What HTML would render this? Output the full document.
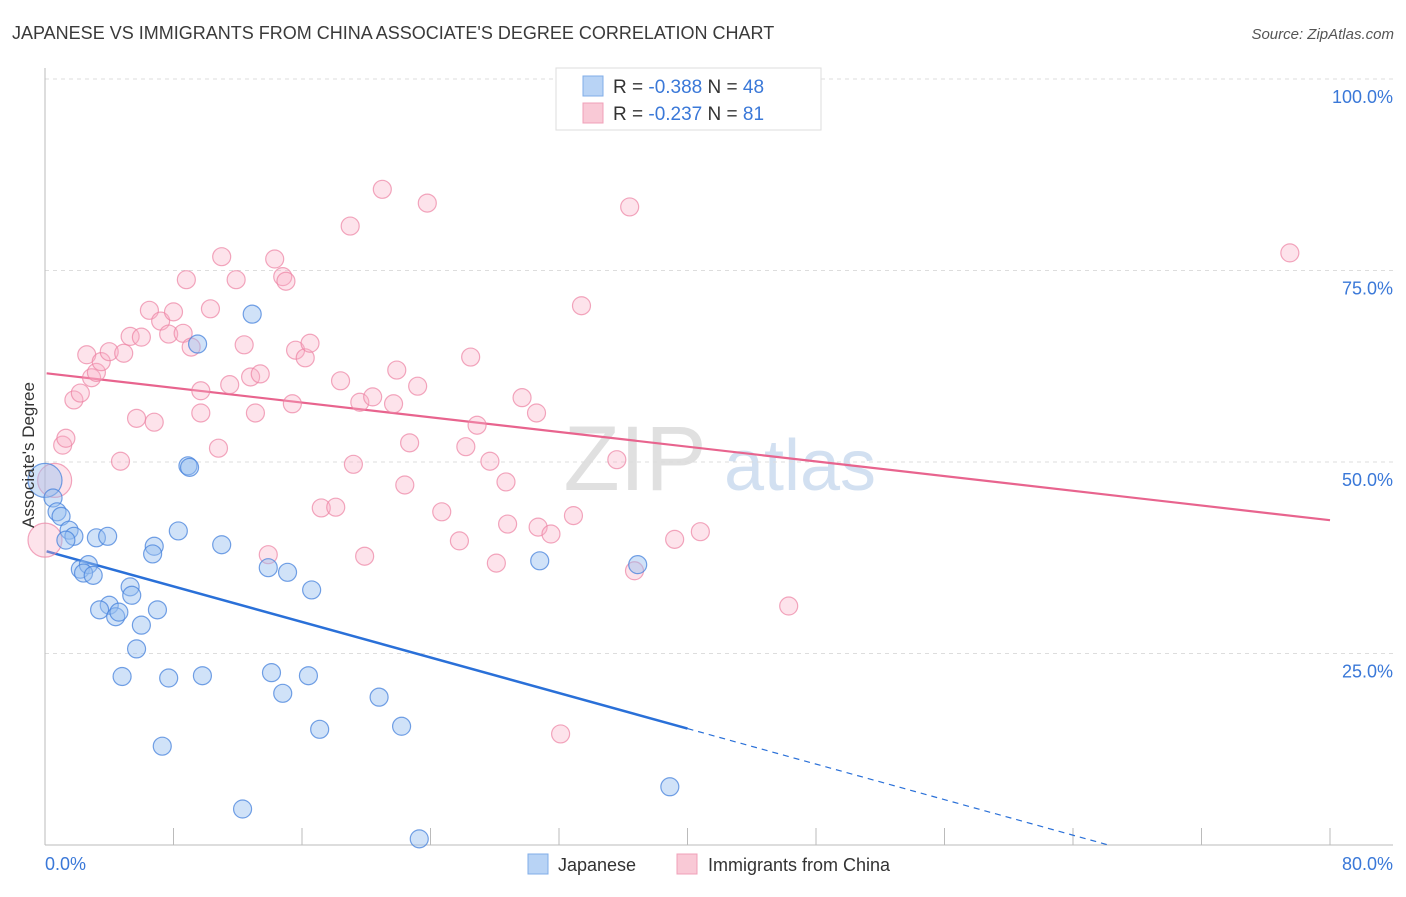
<!DOCTYPE html>
<html><head><meta charset="utf-8"><style>
body{margin:0;background:#fff;font-family:"Liberation Sans",sans-serif;}
svg text{font-family:"Liberation Sans",sans-serif;}
</style></head><body>
<svg id="chart" width="1406" height="892" xmlns="http://www.w3.org/2000/svg">
<text x="12" y="39" font-size="18" fill="#3a3a3a">JAPANESE VS IMMIGRANTS FROM CHINA ASSOCIATE'S DEGREE CORRELATION CHART</text>
<text x="1394" y="39" font-size="15" fill="#555" text-anchor="end" font-style="italic">Source: ZipAtlas.com</text>
<g>
<text x="635" y="490" font-size="92" fill="#d4d4d4" text-anchor="middle" font-family="Liberation Serif" opacity="0.7">ZIP</text>
<text x="800" y="490" font-size="72" fill="#c0d4ec" text-anchor="middle" opacity="0.7">atlas</text>
</g>
<g id="grid"></g>
<g id="axes"></g>
<g id="trend"></g>
<g id="pts"></g>
<text transform="translate(34,455) rotate(-90)" font-size="17" fill="#333" text-anchor="middle">Associate's Degree</text>
<g>
<rect x="556" y="68" width="265" height="62" fill="#fff" stroke="#ddd"/>
<rect x="583" y="76" width="20" height="20" fill="#b8d3f5" stroke="#80aee8"/>
<rect x="583" y="103" width="20" height="20" fill="#f9c9d6" stroke="#f0a0b8"/>
<text x="613" y="93" font-size="19" fill="#333">R = <tspan fill="#3a78d8">-0.388</tspan>   N = <tspan fill="#3a78d8">48</tspan></text>
<text x="613" y="120" font-size="19" fill="#333">R = <tspan fill="#3a78d8">-0.237</tspan>   N = <tspan fill="#3a78d8"> 81</tspan></text>
</g>
<g>
<rect x="528" y="854" width="20" height="20" fill="#b8d3f5" stroke="#80aee8"/>
<text x="558" y="871" font-size="18" fill="#333">Japanese</text>
<rect x="677" y="854" width="20" height="20" fill="#f9c9d6" stroke="#f0a0b8"/>
<text x="708" y="871" font-size="18" fill="#333">Immigrants from China</text>
</g>
</svg>
<script>
const yTicks=[25,50,75,100];
const yTickLabels=["25.0%","50.0%","75.0%","100.0%"];
const xEndLabels=["0.0%","80.0%"];
const japX=[0,0.5,0.75,1.0,1.5,1.8,1.3,3.2,3.9,2.2,2.7,2.4,3.0,8.9,9.0,12.9,9.5,8.3,6.8,6.7,11.0,5.3,5.4,4.0,3.4,4.4,4.6,7.0,6.0,5.7,13.9,15.1,16.6,4.8,7.7,9.8,14.1,16.4,14.8,20.8,17.1,22.2,7.3,12.3,23.3,30.8,36.9,38.9];
const japY=[47.6,45.3,43.5,42.9,41.1,40.3,39.8,40.1,40.3,36.0,36.6,35.5,35.2,49.5,49.3,69.3,65.4,41.0,39.0,38.0,39.2,33.7,32.6,31.3,30.7,29.8,30.4,30.7,28.7,25.6,36.2,35.6,33.3,22.0,21.8,22.1,22.5,22.1,19.8,19.3,15.1,15.5,12.9,4.7,0.8,37.1,36.6,7.6];
const chnX=[0,0.6,1.1,1.3,1.8,2.2,2.6,2.9,3.2,3.5,4.0,4.9,5.3,6.0,4.7,5.7,6.8,6.5,7.2,7.7,8.0,8.6,9.1,8.8,9.7,9.7,10.3,10.8,11.0,11.5,11.9,12.4,12.8,13.1,13.4,14.3,14.8,15.0,15.6,15.4,16.2,16.5,13.9,17.2,18.1,18.4,19.0,19.2,19.6,19.9,20.4,21.0,21.7,21.9,22.4,22.7,23.2,23.8,24.7,25.8,26.2,26.5,26.9,27.7,28.1,28.7,28.8,29.7,30.6,30.7,31.5,32.9,33.4,35.6,36.4,36.7,39.2,40.8,46.3,32.1,77.5];
const chnY=[39.8,47.6,52.2,53.1,58.1,59.0,64.0,61.0,61.7,63.1,64.4,64.2,66.4,66.3,50.1,55.7,55.2,69.8,68.4,66.7,69.6,66.8,65.0,73.8,59.3,56.4,70.0,51.8,76.8,60.1,73.8,65.3,61.1,56.4,61.5,76.5,74.2,73.6,64.6,57.6,63.6,65.5,37.9,44.0,44.1,60.6,80.8,49.7,57.8,37.7,58.5,85.6,57.6,62.0,47.0,52.5,59.9,83.8,43.5,39.7,52.0,63.7,54.8,50.1,36.8,47.4,41.9,58.4,56.4,41.5,40.6,43.0,70.4,50.3,83.3,35.8,39.9,40.9,31.2,14.5,77.3];
const japTrend=[38.4,-0.58];
const chnTrend=[61.6,-0.24];
const X0=45,X1=1330,YB=845,YT=79;
const sx=v=>X0+v/80*(X1-X0);
const sy=v=>YB-v/100*(YB-YT);
const NS="http://www.w3.org/2000/svg";
function mk(tag,attrs,parent){const e=document.createElementNS(NS,tag);for(const k in attrs)e.setAttribute(k,attrs[k]);parent.appendChild(e);return e;}
const grid=document.getElementById('grid'),axes=document.getElementById('axes'),trend=document.getElementById('trend'),pts=document.getElementById('pts');
yTicks.forEach((t,i)=>{
 const l=mk('line',{x1:X0,x2:1393,y1:sy(t),y2:sy(t),stroke:'#ddd','stroke-dasharray':'4,4'},grid);
 
 
 const tx=mk('text',{x:1393,y:sy(t)+24,'font-size':18,fill:'#3a78d8','text-anchor':'end'},axes);
 tx.textContent=yTickLabels[i];
 
 
});
const al=mk('line',{x1:X0,x2:X0,y1:68,y2:YB,stroke:'#bbb'},axes);


const bl=mk('line',{x1:X0,x2:1393,y1:YB,y2:YB,stroke:'#bbb'},axes);


for(let i=0;i<=10;i++){
 const tk=mk('line',{x1:sx(i*8),x2:sx(i*8),y1:828,y2:YB,stroke:'#bbb'},axes);
 
 
}
const xl0=mk('text',{x:45,y:870,'font-size':18,fill:'#3a78d8'},axes);xl0.textContent=xEndLabels[0];


const xl1=mk('text',{x:1393,y:870,'font-size':18,fill:'#3a78d8','text-anchor':'end'},axes);xl1.textContent=xEndLabels[1];


function drawPts(xs,ys,fill,stroke,name){
 xs.forEach((x,i)=>{
  const big=(x<0.7&&(name==='point-china'||i===0));
  const c=mk('circle',{cx:sx(x),cy:sy(ys[i]),r:big?17:9,fill:fill,stroke:stroke,'stroke-width':1.2},pts);
  
  
 });
}
drawPts(chnX,chnY,'rgba(248,175,198,0.35)','rgba(236,130,162,0.7)','point-china');
drawPts(japX,japY,'rgba(150,190,240,0.45)','rgba(70,130,220,0.75)','point-japanese');
const jEnd=40, jZero=-japTrend[0]/japTrend[1];
const t1=mk('line',{x1:sx(0.1),y1:sy(japTrend[0]+japTrend[1]*0.1),x2:sx(jEnd),y2:sy(japTrend[0]+japTrend[1]*jEnd),stroke:'#2a70d8','stroke-width':2.5},trend);


const t2=mk('line',{x1:sx(jEnd),y1:sy(japTrend[0]+japTrend[1]*jEnd),x2:sx(jZero),y2:sy(0),stroke:'#2a70d8','stroke-width':1.2,'stroke-dasharray':'6,5'},trend);


const t3=mk('line',{x1:sx(0.1),y1:sy(chnTrend[0]+chnTrend[1]*0.1),x2:sx(80),y2:sy(chnTrend[0]+chnTrend[1]*80),stroke:'#e8648e','stroke-width':2.2},trend);


</script>
</body></html>
